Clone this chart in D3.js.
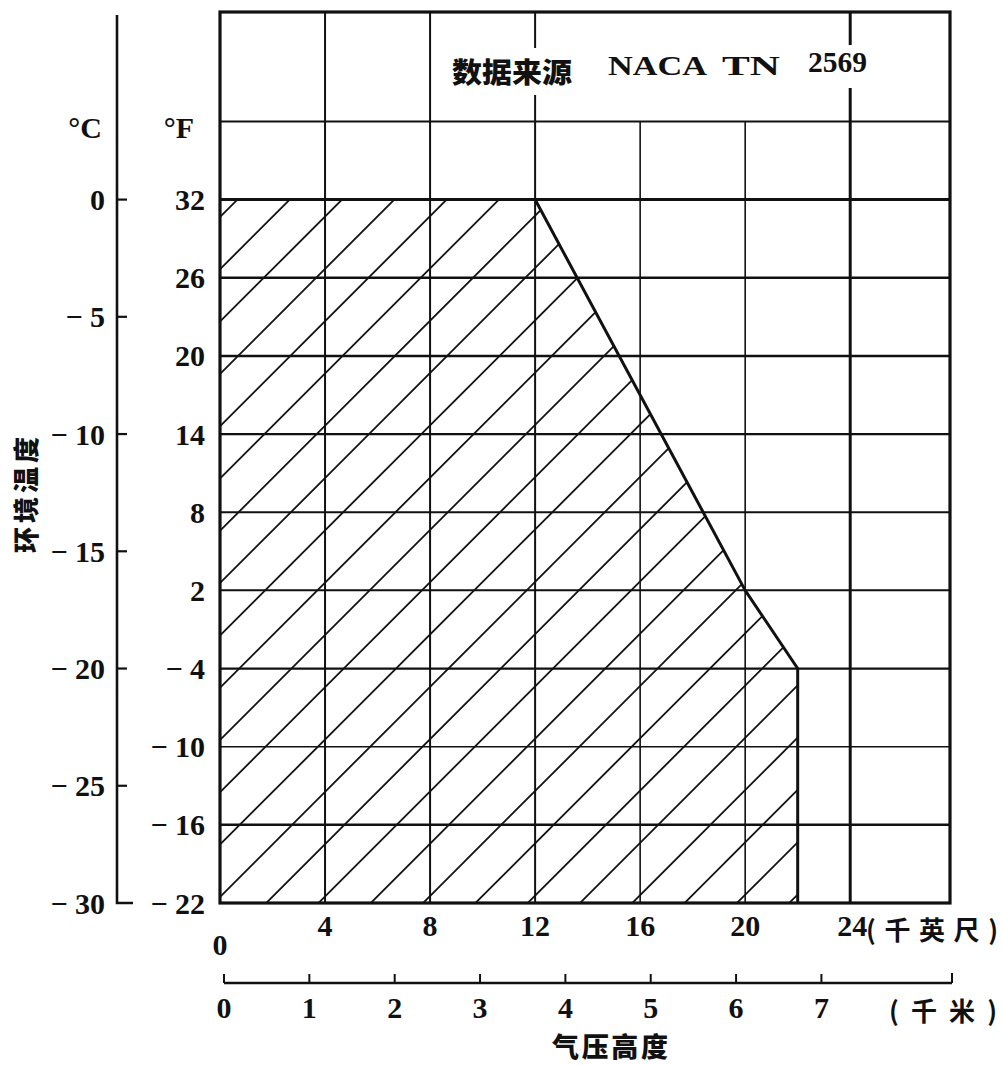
<!DOCTYPE html>
<html><head><meta charset="utf-8">
<script src="https://cdn.jsdelivr.net/npm/d3@7"></script>
<style>body{margin:0;background:#fff}</style>
</head><body><svg id="c" width="1003" height="1065"></svg>
<script>
// ---- data ----
const altTicksKft = [0, 4, 8, 12, 16, 20, 24];
const altLabelsKft = ["0", "4", "8", "12", "16", "20", "24"];
const altTicksKm = [0, 1, 2, 3, 4, 5, 6, 7];
const altLabelsKm = ["0", "1", "2", "3", "4", "5", "6", "7"];
const tempTicksF = [32, 26, 20, 14, 8, 2, -4, -10, -16, -22];
const tempLabelsF = ["32", "26", "20", "14", "8", "2", "− 4", "− 10", "− 16", "− 22"];
const tempTicksC = [0, -5, -10, -15, -20, -25, -30];
const tempLabelsC = ["0", "− 5", "− 10", "− 15", "− 20", "− 25", "− 30"];
const gridF = [38, 32, 26, 20, 14, 8, 2, -4, -10, -16];
const gridKft = [4, 8, 12, 16, 20, 24];
const gridKftTopRow = [4, 8];          // reach the top border
const gridKftBroken = [12, 24];        // reach the top border, broken by the note
const envelopeAlt = [0, 12, 20, 22, 22, 0];
const envelopeTempF = [32, 32, 2, -4, -22, -22];
const xMaxKft = 27.8, yTopF = 46.4, yBotF = -22;
const xMaxKm = 8.53;

// ---- layout ----
const svg = d3.select("#c");
const L = 220, R = 950, T = 12, B = 903;
const x = d3.scaleLinear().domain([0, xMaxKft]).range([L, R]);
const y = d3.scaleLinear().domain([yBotF, yTopF]).range([B, T]);
const km = d3.scaleLinear().domain([0, xMaxKm]).range([L + 4, R + 2]);
const cToF = c => c * 9 / 5 + 32;
const ink = "#111";
const serif = "'Liberation Serif','DejaVu Serif',serif";
const cjk = "'Noto Sans CJK SC','Noto Sans CJK JP',sans-serif";

// ---- hatch envelope ----
const env = envelopeAlt.map((a, i) => [x(a), y(envelopeTempF[i])]);
svg.append("clipPath").attr("id", "envclip")
  .append("polygon").attr("points", env.map(p => p.join(",")).join(" "));
const hatch = svg.append("g").attr("clip-path", "url(#envclip)");
const step = 52.3;
const phase = 437 % step;
const hatchC = d3.range(phase, R + B + step, step);
hatch.selectAll("line").data(hatchC).join("line")
  .attr("x1", c => c - B - 10).attr("y1", B + 10)
  .attr("x2", c => c - T + 10).attr("y2", T - 10)
  .attr("stroke", ink).attr("stroke-width", 1.8);

// ---- grid ----
const fWidth = {38: 2, 32: 3, 26: 2.5, 20: 2.5, 14: 2.2, 8: 2, 2: 2, "-4": 2.2, "-10": 1.4, "-16": 2.5};
svg.append("g").selectAll("line").data(gridF).join("line")
  .attr("x1", L).attr("x2", R).attr("y1", d => y(d)).attr("y2", d => y(d))
  .attr("stroke", ink).attr("stroke-width", d => fWidth[d]);
const kWidth = {4: 2, 8: 2, 12: 2, 16: 1.6, 20: 1.6, 24: 3};
svg.append("g").selectAll("line").data(gridKft).join("line")
  .attr("x1", d => x(d)).attr("x2", d => x(d))
  .attr("y1", B).attr("y2", y(38))
  .attr("stroke", ink).attr("stroke-width", d => kWidth[d]);
svg.append("g").selectAll("line").data(gridKftTopRow).join("line")
  .attr("x1", d => x(d)).attr("x2", d => x(d))
  .attr("y1", y(38)).attr("y2", T)
  .attr("stroke", ink).attr("stroke-width", 2);
const brokenSeg = {12: [[T, 48], [95, y(38)]], 24: [[T, 45], [88, y(38)]]};
gridKftBroken.forEach(k => brokenSeg[k].forEach(s => {
  svg.append("line").attr("x1", x(k)).attr("x2", x(k)).attr("y1", s[0]).attr("y2", s[1])
    .attr("stroke", ink).attr("stroke-width", kWidth[k]);
}));

// envelope outline (slanted and right edges)
svg.append("path")
  .attr("d", d3.line()(env.slice(0, 5)))
  .attr("fill", "none").attr("stroke", ink).attr("stroke-width", 3).attr("stroke-linejoin", "round");

// frame
svg.append("rect").attr("x", L).attr("y", T).attr("width", R - L).attr("height", B - T)
  .attr("fill", "none").attr("stroke", ink).attr("stroke-width", 3.2);

// ---- note ----
const noteParts = [
  {t: "数据来源", x0: 452, w: 120, base: 83, fam: cjk, size: 28, wt: 900},
  {t: "NACA", x0: 608, w: 99, base: 75, fam: serif, size: 27, wt: "bold"},
  {t: "TN", x0: 722, w: 58, base: 75, fam: serif, size: 27, wt: "bold"},
  {t: "2569", x0: 808, w: 59, base: 72, fam: serif, size: 30, wt: "bold"}
];
svg.append("g").selectAll("text").data(noteParts).join("text")
  .attr("x", d => d.x0).attr("y", d => d.base)
  .attr("font-family", d => d.fam).attr("font-weight", d => d.wt).attr("font-size", d => d.size)
  .attr("textLength", d => d.w).attr("lengthAdjust", "spacingAndGlyphs")
  .attr("fill", ink).text(d => d.t);

// ---- Fahrenheit labels ----
const lab = (g) => g.attr("font-family", serif).attr("font-weight", "bold").attr("font-size", 30).attr("fill", ink);
svg.append("g").call(lab).selectAll("text").data(tempTicksF).join("text")
  .attr("x", 205).attr("y", d => y(d)).attr("dy", "0.35em").attr("text-anchor", "end")
  .text((d, i) => tempLabelsF[i]);
svg.append("text").call(lab).attr("x", 194).attr("y", 138).attr("text-anchor", "end").text("°F");

// ---- Celsius axis ----
const cx = 117;
svg.append("path").attr("d", `M${cx},15V${y(cToF(-30))}H${cx + 16}`)
  .attr("fill", "none").attr("stroke", ink).attr("stroke-width", 2.6);
svg.append("g").selectAll("line").data(tempTicksC.slice(0, -1)).join("line")
  .attr("x1", cx).attr("x2", cx + 10).attr("y1", d => y(cToF(d))).attr("y2", d => y(cToF(d)))
  .attr("stroke", ink).attr("stroke-width", 2.2);
svg.append("g").call(lab).selectAll("text").data(tempTicksC).join("text")
  .attr("x", 105).attr("y", d => y(cToF(d))).attr("dy", "0.35em").attr("text-anchor", "end")
  .text((d, i) => tempLabelsC[i]);
svg.append("text").call(lab).attr("x", 102).attr("y", 138).attr("text-anchor", "end").text("°C");
svg.append("text").attr("transform", `translate(36,493) rotate(-90)`)
  .attr("text-anchor", "middle").attr("font-family", cjk).attr("font-weight", 900)
  .attr("font-size", 26).attr("letter-spacing", 4).attr("fill", ink).text("环境温度");

// ---- altitude (kft) labels ----
svg.append("g").call(lab).selectAll("text").data(altTicksKft).join("text")
  .attr("x", d => x(d)).attr("y", d => d === 0 ? 955 : 936)
  .attr("text-anchor", d => d === 24 ? "start" : "middle")
  .attr("dx", d => d === 24 ? -13 : 0)
  .text((d, i) => altLabelsKft[i]);
svg.append("text").attr("x", 866).attr("y", 940).attr("font-family", cjk).attr("font-weight", 700)
  .attr("font-size", 26).attr("textLength", 132).attr("lengthAdjust", "spacing")
  .attr("fill", ink).text("(千英尺)");

// ---- altitude (km) axis ----
const ky = 983;
svg.append("line").attr("x1", km(0)).attr("x2", R + 2).attr("y1", ky).attr("y2", ky)
  .attr("stroke", ink).attr("stroke-width", 2.6);
svg.append("g").selectAll("line").data(altTicksKm).join("line")
  .attr("x1", d => km(d)).attr("x2", d => km(d)).attr("y1", ky).attr("y2", ky - 9)
  .attr("stroke", ink).attr("stroke-width", 2);
svg.append("line").attr("x1", R + 2).attr("x2", R + 2).attr("y1", ky).attr("y2", ky - 10)
  .attr("stroke", ink).attr("stroke-width", 2);
svg.append("g").call(lab).selectAll("text").data(altTicksKm).join("text")
  .attr("x", d => km(d)).attr("y", 1018).attr("text-anchor", "middle")
  .text((d, i) => altLabelsKm[i]);
svg.append("text").attr("x", 889).attr("y", 1021).attr("font-family", cjk).attr("font-weight", 700)
  .attr("font-size", 26).attr("textLength", 108).attr("lengthAdjust", "spacing")
  .attr("fill", ink).text("(千米)");
svg.append("text").attr("x", 552).attr("y", 1057)
  .attr("font-family", cjk).attr("font-weight", 900).attr("font-size", 27)
  .attr("textLength", 116).attr("lengthAdjust", "spacing")
  .attr("fill", ink).text("气压高度");
</script></body></html>
